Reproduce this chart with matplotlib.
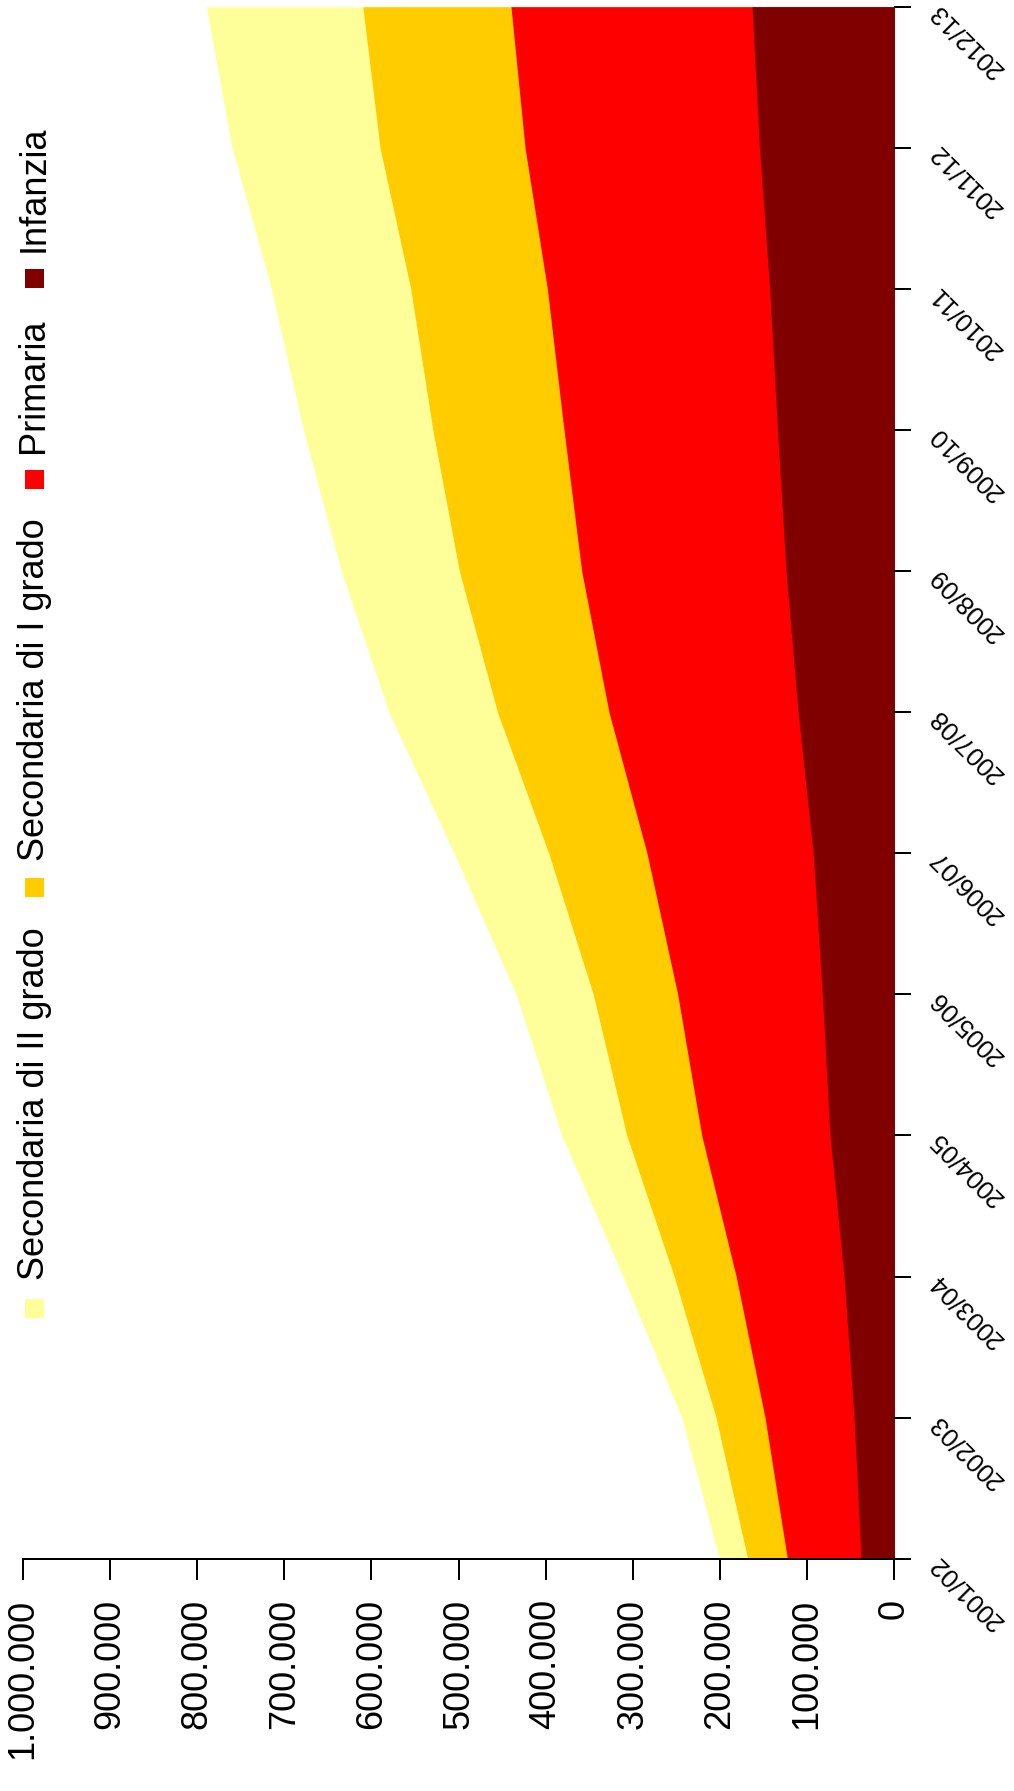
import matplotlib
matplotlib.use("Agg")
import numpy as np
import matplotlib.pyplot as plt
from matplotlib.patches import Rectangle

# Alunni con cittadinanza non italiana, per ordine di scuola
school_years = ["2001/02", "2002/03", "2003/04", "2004/05", "2005/06", "2006/07",
                "2007/08", "2008/09", "2009/10", "2010/11", "2011/12", "2012/13"]
infanzia = [38300, 46300, 57800, 73900, 82700, 93100,
            110500, 124300, 134100, 143100, 154800, 163300]
primaria = [84500, 102100, 123700, 147100, 165900, 190700,
            216900, 234400, 244900, 255000, 268900, 276500]
secondaria_1 = [45500, 56200, 71100, 86000, 96800, 112700,
                127900, 140300, 150400, 156700, 166300, 170000]
secondaria_2 = [32500, 39400, 58700, 74600, 88600, 108600,
                124500, 135500, 148600, 159800, 169800, 179500]

levels = ["Infanzia", "Primaria", "Secondaria di I grado", "Secondaria di II grado"]
colors = ["#800000", "#FF0000", "#FFCC00", "#FFFF99"]
value_ticks = [0, 100000, 200000, 300000, 400000, 500000,
               600000, 700000, 800000, 900000, 1000000]

W, H = 1014, 1791
plt.rcParams["font.family"] = ["Liberation Sans", "DejaVu Sans"]

fig = plt.figure(figsize=(W / 100, H / 100), dpi=100)
ax = fig.add_axes([22.6 / W, 1 - 1558.7 / H, 871.8 / W, 1552 / H])

# stacked areas, drawn from the total downwards so layers overlap cleanly
y = np.arange(len(school_years))
stack = np.cumsum([infanzia, primaria, secondaria_1, secondaria_2], axis=0)
for i in reversed(range(len(levels))):
    ax.fill_betweenx(y, 0, stack[i], color=colors[i], lw=0)

ax.set_xlim(1000000, 0)
ax.set_ylim(0, len(school_years) - 1)

for side in ["top", "left", "right"]:
    ax.spines[side].set_visible(False)
ax.spines["bottom"].set_linewidth(1.44)

ax.set_xticks(value_ticks)
ax.set_xticklabels([f"{v:,}".replace(",", ".") for v in value_ticks])
ax.tick_params(axis="x", length=15, width=1.44, pad=14, labelsize=26,
               labelrotation=90)

ax.yaxis.tick_right()
ax.set_yticks(y)
ax.set_yticklabels([])
ax.tick_params(axis="y", length=12.5, width=1.44)

label_x = 1 + (934 - 894.4) / 871.8
for yi, lab in zip(y, school_years):
    ax.text(label_x, yi, lab, transform=ax.get_yaxis_transform(),
            rotation=135, rotation_mode="anchor", ha="right", va="center",
            fontsize=18.5, clip_on=False)

# legend along the left edge, reading upwards
square_centres = [278, 479, 887.5, 1308]
text_starts = [252, 453, 861, 1280]
for lab, col, c, t in zip(levels, colors, square_centres, text_starts):
    fig.add_artist(Rectangle((25 / W, 1 - (c + 9.5) / H), 18.5 / W, 19 / H,
                             transform=fig.transFigure, color=col, lw=0))
    fig.text(43.5 / W, 1 - t / H, lab, rotation=90, rotation_mode="anchor",
             ha="left", va="baseline", fontsize=26)

fig.savefig("out.png", dpi=100)
